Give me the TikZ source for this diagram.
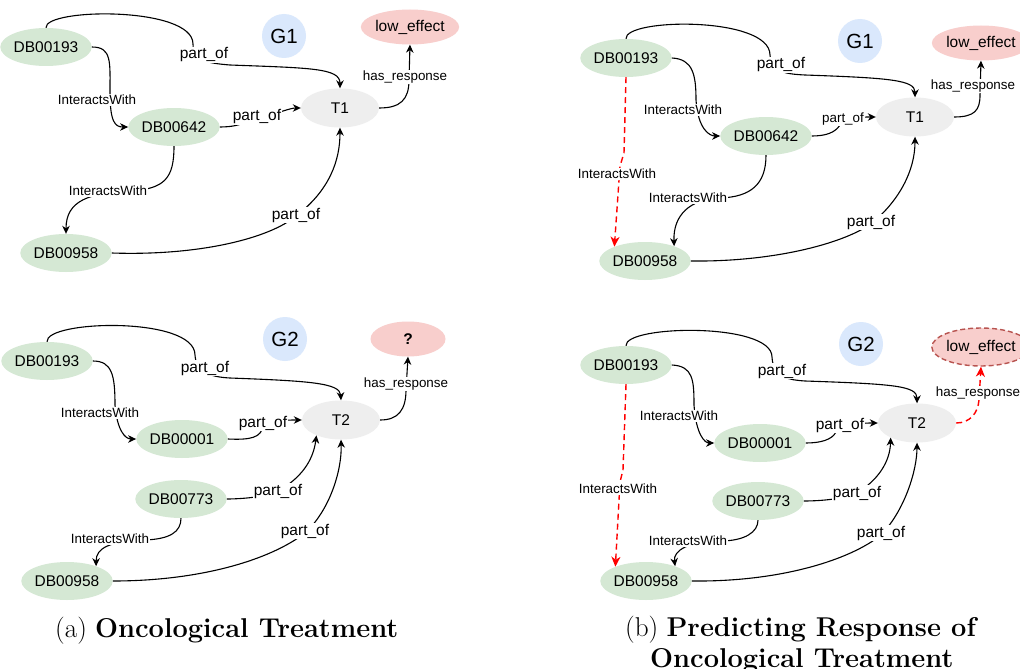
\documentclass[tikz,border=0pt]{standalone}
\usepackage{fontspec}
\newfontfamily\diagfont{Liberation Sans}
\usetikzlibrary{shapes.geometric,arrows.meta}
\definecolor{drugfill}{HTML}{D5E8D4}
\definecolor{respfill}{HTML}{F8CECC}
\definecolor{respline}{HTML}{B85450}
\definecolor{graphfill}{HTML}{DAE8FC}
\definecolor{treatfill}{HTML}{EEEEEE}
\definecolor{predred}{HTML}{FF0000}

\tikzset{
  base/.style={ellipse, inner sep=0pt, font=\diagfont\fontsize{15.5}{18}\selectfont},
  drug/.style={base, fill=drugfill, minimum width=78pt, minimum height=38pt},
  treat/.style={base, fill=treatfill, minimum width=78pt, minimum height=39pt},
  resp/.style={base, fill=respfill, minimum width=75pt, minimum height=35pt},
  gid/.style={circle, fill=graphfill, minimum size=44pt, inner sep=0pt,
    font=\diagfont\fontsize{20.5}{24}\selectfont},
  rel/.style={line width=1.1pt, -{Stealth[length=8pt,width=7.5pt,inset=2.5pt]}},
  pred/.style={line width=1.4pt, draw=predred, dash pattern=on 6pt off 4pt,
    -{Stealth[length=10pt,width=9pt,inset=3pt,fill=predred]}},
  lbl/.style={fill=white, inner sep=1pt, font=\diagfont\fontsize{15.5}{18}\selectfont},
  slbl/.style={fill=white, inner sep=1pt, font=\diagfont\fontsize{13.4}{16}\selectfont},
  subcap/.style={anchor=base west, inner sep=0pt, font=\fontsize{27.2}{31}\selectfont},
}

\begin{document}
\begin{tikzpicture}[x=1pt,y=-1pt]
\fill[white] (0,0) rectangle (1020,669);
\useasboundingbox (0,0) rectangle (1020,669);

% ---------------- (a) upper graph G1 ----------------
\node[drug]  (a1d193) at (46,47)   {DB00193};
\node[drug]  (a1d642) at (174,127) {DB00642};
\node[drug]  (a1d958) at (66,253)  {DB00958};
\node[treat] (a1t)    at (340,108) {T1};
\node[resp]  (a1r)    at (410,27)  {low\textunderscore effect};
\node[gid]   (a1g)    at (284,36)  {G1};

\draw[rel] (a1d193.north) .. controls (44,8) and (193,6) .. (193,44)
  .. controls (193,60) and (205,63) .. (230,65)
  .. controls (310,68) and (340,68) .. (a1t.north);
\draw[rel] (a1d193.east) .. controls (112,47) and (110,62) .. (110,92)
  .. controls (110,122) and (115,127) .. (a1d642.west);
\draw[rel] (a1d642.east) .. controls (245,127) and (250,118) .. (262,116)
  .. controls (280,113) and (290,108) .. (a1t.west);
\draw[rel] (a1d642.south) .. controls (174,178) and (165,189) .. (130,191)
  .. controls (90,193) and (66,200) .. (a1d958.north);
\draw[rel] (a1d958.east) .. controls (200,256) and (270,238) .. (296,216)
  .. controls (330,190) and (340,160) .. (a1t.south);
\draw[rel] (a1t.east) .. controls (400,108) and (409,100) .. (409,80) -- (a1r.south);

\node[lbl]  (a1l1) at (204,55)  {part\textunderscore of};
\node[slbl] (a1l2) at (97,100)  {InteractsWith};
\node[lbl]  (a1l3) at (257,117) {part\textunderscore of};
\node[slbl] (a1l4) at (108,191) {InteractsWith};
\node[lbl]  (a1l5) at (296,215) {part\textunderscore of};
\node[slbl] (a1l6) at (405,77)  {has\textunderscore response};

% ---------------- (a) lower graph G2 ----------------
\node[drug]  (a2d193) at (47,361)  {DB00193};
\node[drug]  (a2d001) at (182,439) {DB00001};
\node[drug]  (a2d773) at (181,499) {DB00773};
\node[drug]  (a2d958) at (67,581)  {DB00958};
\node[treat] (a2t)    at (341,420) {T2};
\node[resp]  (a2r)    at (408,339) {\bfseries ?};
\node[gid]   (a2g)    at (285,339) {G2};

\draw[rel] (a2d193.north) .. controls (45,320) and (195,316) .. (195,355)
  .. controls (196,372) and (210,377) .. (230,378)
  .. controls (310,381) and (340,383) .. (a2t.north);
\draw[rel] (a2d193.east) .. controls (112,361) and (115,375) .. (115,405)
  .. controls (117,430) and (125,439) .. (a2d001.west);
\draw[rel] (a2d001.east) .. controls (250,440) and (262,438) .. (263,425)
  .. controls (270,420) and (290,420) .. (a2t.west);
\draw[rel] (a2d773.east) .. controls (240,499) and (270,497) .. (280,490)
  .. controls (300,478) and (313,462) .. (a2t.212);
\draw[rel] (a2d773.south) .. controls (181,532) and (170,539) .. (145,540)
  .. controls (110,541) and (96,548) .. (a2d958.27);
\draw[rel] (a2d958.east) .. controls (200,581) and (270,560) .. (305,533)
  .. controls (330,510) and (342,470) .. (a2t.south);
\draw[rel] (a2t.east) .. controls (398,420) and (406,410) .. (406,390) -- (a2r.south);

\node[lbl]  (a2l1) at (205,368) {part\textunderscore of};
\node[slbl] (a2l2) at (100,413) {InteractsWith};
\node[lbl]  (a2l3) at (263,423) {part\textunderscore of};
\node[lbl]  (a2l4) at (278,491) {part\textunderscore of};
\node[slbl] (a2l5) at (110,539) {InteractsWith};
\node[lbl]  (a2l6) at (305,531) {part\textunderscore of};
\node[slbl] (a2l7) at (406,384) {has\textunderscore response};

% ---------------- (b) upper graph G1 ----------------
\node[drug]  (b1d193) at (626,58)  {DB00193};
\node[drug]  (b1d642) at (766,136) {DB00642};
\node[drug]  (b1d958) at (645,261) {DB00958};
\node[treat] (b1t)    at (915,117) {T1};
\node[resp, minimum width=74pt] (b1r) at (981,43) {low\textunderscore effect};
\node[gid]   (b1g)    at (860,41)  {G1};

\draw[rel] (b1d193.north) .. controls (624,18) and (770,16) .. (770,55)
  .. controls (771,72) and (785,74) .. (805,75)
  .. controls (890,78) and (915,80) .. (b1t.north);
\draw[rel] (b1d193.east) .. controls (693,59) and (696,75) .. (696,100)
  .. controls (698,130) and (710,136) .. (b1d642.west);
\draw[rel] (b1d642.east) .. controls (825,136) and (835,133) .. (840,125)
  .. controls (848,117) and (862,117) .. (b1t.west);
\draw[rel] (b1d642.south) .. controls (766,185) and (750,197) .. (720,198)
  .. controls (690,199) and (673,215) .. (b1d958.27);
\draw[pred] (b1d193.south) -- (624,153) -- (620,166) -- (b1d958.155);
\draw[rel] (b1d958.east) .. controls (770,262) and (840,245) .. (871,224)
  .. controls (900,200) and (915,170) .. (b1t.south);
\draw[rel] (b1t.east) .. controls (975,117) and (980,110) .. (980,95) -- (b1r.south);

\node[lbl]  (b1l1) at (781,65)  {part\textunderscore of};
\node[slbl] (b1l2) at (683,110) {InteractsWith};
\node[slbl] (b1l3) at (843,119) {part\textunderscore of};
\node[slbl] (b1l4) at (688,198) {InteractsWith};
\node[slbl] (b1l5) at (617,174) {InteractsWith};
\node[lbl]  (b1l6) at (871,222) {part\textunderscore of};
\node[slbl] (b1l7) at (973,86)  {has\textunderscore response};

% ---------------- (b) lower graph G2 ----------------
\node[drug, minimum width=76pt] (b2d193) at (626,365) {DB00193};
\node[drug, minimum width=76pt] (b2d001) at (760,443) {DB00001};
\node[drug, minimum width=76pt] (b2d773) at (758,501) {DB00773};
\node[drug, minimum width=76pt] (b2d958) at (646,581) {DB00958};
\node[treat] (b2t)    at (917,423) {T2};
\node[resp, minimum height=38pt, draw=respline, line width=1.4pt,
      dash pattern=on 5pt off 3pt] (b2r) at (981,347) {low\textunderscore effect};
\node[gid]   (b2g)    at (861,344) {G2};

\draw[rel] (b2d193.north) .. controls (624,325) and (772,322) .. (772,357)
  .. controls (773,378) and (790,380) .. (805,381)
  .. controls (895,384) and (917,386) .. (b2t.north);
\draw[rel] (b2d193.east) .. controls (693,366) and (694,380) .. (694,405)
  .. controls (696,435) and (705,443) .. (b2d001.west);
\draw[rel] (b2d001.east) .. controls (820,443) and (832,440) .. (836,432)
  .. controls (850,423) and (865,423) .. (b2t.west);
\draw[rel] (b2d773.east) .. controls (820,501) and (845,499) .. (857,493)
  .. controls (878,480) and (890,462) .. (b2t.209);
\draw[rel] (b2d773.south) .. controls (758,532) and (745,541) .. (720,541)
  .. controls (690,541) and (673,550) .. (b2d958.27);
\draw[pred] (b2d193.south) -- (623,470) -- (620,482) -- (b2d958.155);
\draw[rel] (b2d958.east) .. controls (780,582) and (850,560) .. (881,535)
  .. controls (905,510) and (917,470) .. (b2t.south);
\draw[pred] (b2t.east) .. controls (970,423) and (978,413) .. (979,400) -- (b2r.south);

\node[lbl]  (b2l1) at (782,371) {part\textunderscore of};
\node[slbl] (b2l2) at (679,416) {InteractsWith};
\node[lbl]  (b2l3) at (840,425) {part\textunderscore of};
\node[lbl]  (b2l4) at (857,493) {part\textunderscore of};
\node[slbl] (b2l5) at (688,541) {InteractsWith};
\node[slbl] (b2l6) at (618,489) {InteractsWith};
\node[lbl]  (b2l7) at (881,533) {part\textunderscore of};
\node[slbl] (b2l8) at (978,393) {has\textunderscore response};

% ---------------- sub-captions ----------------
\node[subcap] (capa)  at (55,637)  {(a) \textbf{Oncological Treatment}};
\node[subcap] (capb1) at (625,636) {(b) \textbf{Predicting Response of}};
\node[subcap] (capb2) at (650,667) {\textbf{Oncological Treatment}};
\end{tikzpicture}
\end{document}
